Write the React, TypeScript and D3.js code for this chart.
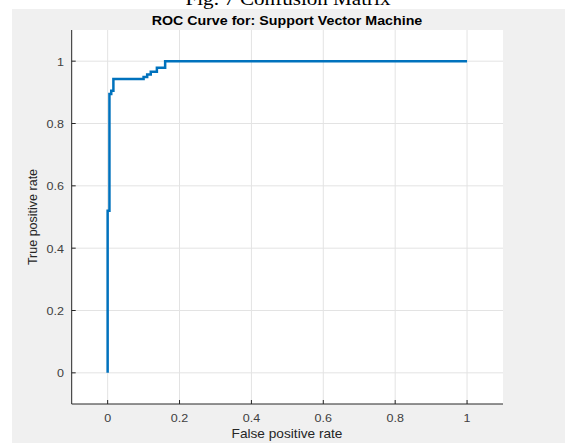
import React from "react";
import * as d3 from "d3";

const fpr = [0, 0, 0.005, 0.005, 0.01, 0.01, 0.016, 0.016, 0.1, 0.1, 0.11, 0.11, 0.12, 0.12, 0.137, 0.137, 0.16, 0.16, 1];
const tpr = [0, 0.52, 0.52, 0.895, 0.895, 0.905, 0.905, 0.943, 0.943, 0.949, 0.949, 0.957, 0.957, 0.966, 0.966, 0.979, 0.979, 1, 1];
const xTicks = [0, 0.2, 0.4, 0.6, 0.8, 1];
const yTicks = [0, 0.2, 0.4, 0.6, 0.8, 1];
const title = "ROC Curve for: Support Vector Machine";
const caption = "Fig. 7 Confusion Matrix";
const xLabel = "False positive rate";
const yLabel = "True positive rate";

const SX = 1.14;

function HText(props: { x: number; y: number; anchor?: string; size: number; weight?: string; fill: string; family: string; children: React.ReactNode }) {
  return (
    <text
      transform={`translate(${props.x},${props.y}) scale(${SX},1)`}
      textAnchor={props.anchor || "middle"}
      fontFamily={props.family}
      fontSize={props.size}
      fontWeight={props.weight || "normal"}
      fill={props.fill}
    >
      {props.children}
    </text>
  );
}

export default function App() {
  const W = 565, H = 443;
  const left = 71.7, right = 503, top = 30, bottom = 404;
  const x = d3.scaleLinear().domain([-0.1, 1.1]).range([left, right]);
  const y = d3.scaleLinear().domain([-0.1, 1.1]).range([bottom, top]);
  const pts: [number, number][] = fpr.map((f, i) => [f, tpr[i]]);
  const line = d3.line<[number, number]>().x(d => x(d[0])).y(d => y(d[1]));
  const axisCol = "#262626";
  const font = "Arial, 'Liberation Sans', sans-serif";
  return (
    <svg width={W} height={H} style={{ position: "absolute", left: 0, top: 0, background: "#ffffff" }}>
      <rect x={0} y={0} width={W} height={H} fill="#ffffff" />
      <HText x={288} y={4.5} size={18.5} fill="#000" family="'Liberation Serif', 'Times New Roman', serif">{caption}</HText>
      <rect x={12} y={9} width={W - 12} height={H - 9} fill="#f0f0f0" />
      <rect x={left} y={top} width={right - left} height={bottom - top} fill="#ffffff" />
      {xTicks.map(t => (
        <line key={"gx" + t} x1={x(t)} x2={x(t)} y1={top} y2={bottom} stroke="#e3e3e3" strokeWidth={1} />
      ))}
      {yTicks.map(t => (
        <line key={"gy" + t} x1={left} x2={right} y1={y(t)} y2={y(t)} stroke="#e3e3e3" strokeWidth={1} />
      ))}
      <path d={line(pts) || ""} fill="none" stroke="#0072BD" strokeWidth={2.5} strokeLinejoin="miter" />
      <line x1={left} x2={right} y1={bottom} y2={bottom} stroke={axisCol} strokeWidth={1} />
      <line x1={left} x2={left} y1={top} y2={bottom} stroke={axisCol} strokeWidth={1} />
      {xTicks.map(t => (
        <g key={"tx" + t}>
          <line x1={x(t)} x2={x(t)} y1={bottom} y2={bottom - 4} stroke={axisCol} strokeWidth={1} />
          <HText x={x(t)} y={422} size={11} fill="#404040" family={font}>{t}</HText>
        </g>
      ))}
      {yTicks.map(t => (
        <g key={"ty" + t}>
          <line x1={left} x2={left + 4} y1={y(t)} y2={y(t)} stroke={axisCol} strokeWidth={1} />
          <HText x={64} y={y(t) + 4.5} anchor="end" size={11} fill="#404040" family={font}>{t}</HText>
        </g>
      ))}
      <HText x={287} y={438} size={12} fill="#262626" family={font}>{xLabel}</HText>
      <text transform={`translate(37, ${(top + bottom) / 2}) rotate(-90)`} textAnchor="middle" fontFamily={font} fontSize={12.5} fill="#262626">{yLabel}</text>
      <HText x={287} y={24.5} size={12.5} weight="bold" fill="#000" family={font}>{title}</HText>
    </svg>
  );
}
